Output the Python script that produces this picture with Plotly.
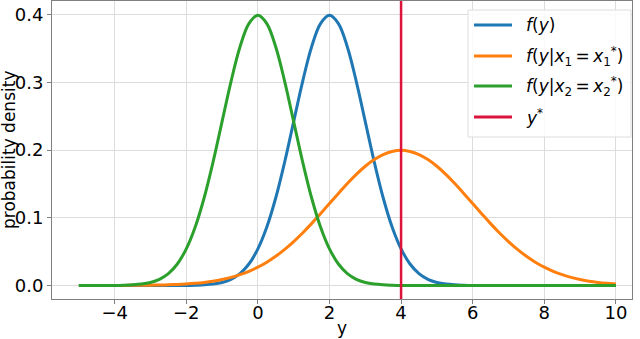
import plotly.graph_objects as go

# x grid (step 0.25 from -5 to 10)
X = [-5.0, -4.75, -4.5, -4.25, -4.0, -3.75, -3.5, -3.25, -3.0, -2.75, -2.5, -2.25,
     -2.0, -1.75, -1.5, -1.25, -1.0, -0.75, -0.5, -0.25, 0.0, 0.25, 0.5, 0.75,
     1.0, 1.25, 1.5, 1.75, 2.0, 2.25, 2.5, 2.75, 3.0, 3.25, 3.5, 3.75,
     4.0, 4.25, 4.5, 4.75, 5.0, 5.25, 5.5, 5.75, 6.0, 6.25, 6.5, 6.75,
     7.0, 7.25, 7.5, 7.75, 8.0, 8.25, 8.5, 8.75, 9.0, 9.25, 9.5, 9.75, 10.0]

# f(y)
F_Y = [0, 0, 0, 0, 0, 0, 0, 0, 0, 0, 0, 0,
       0.0001, 0.0004, 0.0009, 0.0020, 0.0044, 0.0091, 0.0175, 0.0317, 0.0540, 0.0863, 0.1295, 0.1826,
       0.2420, 0.3011, 0.3521, 0.3867, 0.3989, 0.3867, 0.3521, 0.3011, 0.2420, 0.1826, 0.1295, 0.0863,
       0.0540, 0.0317, 0.0175, 0.0091, 0.0044, 0.0020, 0.0009, 0.0004, 0.0001, 0, 0, 0,
       0, 0, 0, 0, 0, 0, 0, 0, 0, 0, 0, 0, 0]

# f(y | x1 = x1*)
F_Y_X1 = [0, 0, 0, 0, 0.0001, 0.0001, 0.0002, 0.0003, 0.0004, 0.0007, 0.0010, 0.0015,
          0.0022, 0.0032, 0.0045, 0.0063, 0.0088, 0.0119, 0.0159, 0.0209, 0.0270, 0.0344, 0.0431, 0.0533,
          0.0648, 0.0775, 0.0913, 0.1060, 0.1210, 0.1359, 0.1506, 0.1641, 0.1760, 0.1859, 0.1933, 0.1979,
          0.1995, 0.1979, 0.1933, 0.1859, 0.1760, 0.1641, 0.1506, 0.1359, 0.1210, 0.1060, 0.0913, 0.0775,
          0.0648, 0.0533, 0.0431, 0.0344, 0.0270, 0.0209, 0.0159, 0.0119, 0.0088, 0.0063, 0.0045, 0.0032, 0.0022]

# f(y | x2 = x2*)
F_Y_X2 = [0, 0, 0, 0, 0.0001, 0.0004, 0.0009, 0.0020, 0.0044, 0.0091, 0.0175, 0.0317,
          0.0540, 0.0863, 0.1295, 0.1826, 0.2420, 0.3011, 0.3521, 0.3867, 0.3989, 0.3867, 0.3521, 0.3011,
          0.2420, 0.1826, 0.1295, 0.0863, 0.0540, 0.0317, 0.0175, 0.0091, 0.0044, 0.0020, 0.0009, 0.0004,
          0.0001, 0, 0, 0, 0, 0, 0, 0, 0, 0, 0, 0,
          0, 0, 0, 0, 0, 0, 0, 0, 0, 0, 0, 0, 0]

Y_STAR = 4

X_TICKS = [-4, -2, 0, 2, 4, 6, 8, 10]
X_TICK_TEXT = ["\u22124", "\u22122", "0", "2", "4", "6", "8", "10"]
Y_TICKS = [0.0, 0.1, 0.2, 0.3, 0.4]
Y_TICK_TEXT = ["0.0", "0.1", "0.2", "0.3", "0.4"]

TS = "\u2009"
NAMES = ["<i>f</i>(<i>y</i>)",
         "<i>f</i>(<i>y</i>|<i>x</i><sub>1</sub>" + TS + "=" + TS + "<i>x</i><sub>1</sub><sup>*</sup>)",
         "<i>f</i>(<i>y</i>|<i>x</i><sub>2</sub>" + TS + "=" + TS + "<i>x</i><sub>2</sub><sup>*</sup>)",
         "<i>y</i><sup>*</sup>"]
COLORS = ["#1f77b4", "#ff7f0e", "#2ca02c", "#dc143c"]

fig = go.Figure()
for ys, name, col in zip([F_Y, F_Y_X1, F_Y_X2], NAMES[:3], COLORS[:3]):
    fig.add_trace(go.Scatter(x=X, y=ys, mode="lines", name=name, showlegend=False,
                             line=dict(color=col, width=3, shape="spline")))

fig.add_shape(type="line", x0=Y_STAR, x1=Y_STAR, y0=0, y1=1, xref="x", yref="y domain",
              line=dict(color=COLORS[3], width=2.5), layer="above")

# ---- legend drawn by hand (matplotlib-like) ----
L, R, T, B = 52, 632, 1, 299          # plot area in pixels
def px(x):
    return (x - L) / (R - L)
def py(y):
    return (B - y) / (B - T)

fig.add_shape(type="rect", xref="paper", yref="paper",
              x0=px(468), x1=px(631), y0=py(137), y1=py(10),
              line=dict(color="#dddddd", width=1), fillcolor="rgba(255,255,255,0.85)",
              layer="above")
ROW_Y = [25, 56, 86, 117]
for name, col, ry in zip(NAMES, COLORS, ROW_Y):
    fig.add_shape(type="line", xref="paper", yref="paper",
                  x0=px(474), x1=px(512), y0=py(ry), y1=py(ry),
                  line=dict(color=col, width=3), layer="above")
    fig.add_annotation(xref="paper", yref="paper", x=px(524), y=py(ry),
                       xanchor="left", yanchor="middle", text=name, showarrow=False,
                       font=dict(size=17, color="black"))

axis_common = dict(showgrid=True, gridcolor="#dcdcdc", gridwidth=1, zeroline=False,
                   showline=True, linecolor="#808080", linewidth=1, mirror=True,
                   ticks="outside", ticklen=4, tickcolor="#808080",
                   tickfont=dict(size=18, color="black"), automargin=False)

fig.add_annotation(xref="paper", yref="paper", x=px(9), y=0.5, textangle=-90,
                   xanchor="center", yanchor="middle", text="probability density",
                   showarrow=False, font=dict(size=17, color="black"))
fig.add_annotation(xref="paper", yref="paper", x=0.5, y=py(328),
                   xanchor="center", yanchor="middle", text="y",
                   showarrow=False, font=dict(size=17, color="black"))

fig.update_layout(
    width=640, height=339,
    margin=dict(l=52, r=8, t=1, b=40),
    paper_bgcolor="white", plot_bgcolor="white",
    font=dict(family="DejaVu Sans", size=17, color="black"),
    showlegend=False,
    xaxis=dict(range=[-5.75, 10.45], tickvals=X_TICKS, ticktext=X_TICK_TEXT,
               ticklabelstandoff=-7, **axis_common),
    yaxis=dict(range=[-0.02, 0.42], tickvals=Y_TICKS, ticktext=Y_TICK_TEXT, **axis_common),
)

fig.write_html("out.html", config={"displayModeBar": False},
               post_script="document.body.style.margin='0px';")
